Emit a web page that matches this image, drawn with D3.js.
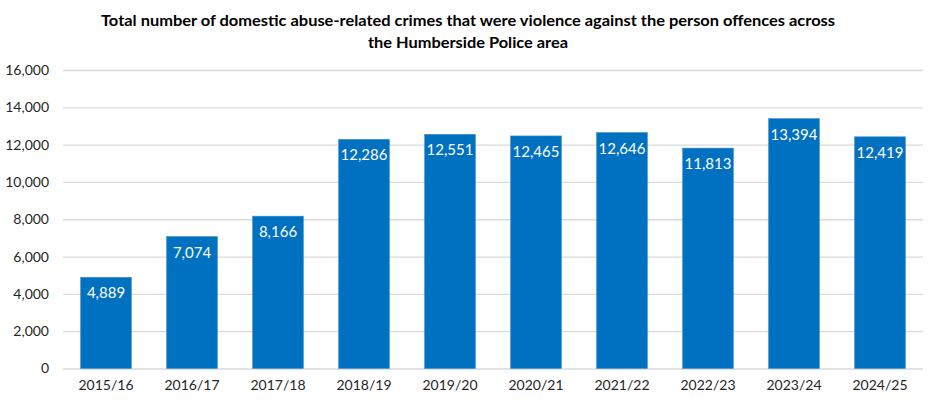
<!DOCTYPE html>
<html>
<head>
<meta charset="utf-8">
<script src="https://cdn.jsdelivr.net/npm/d3@7"></script>
<style>
  body { margin: 0; background: #fff; }
  .chart text { font-family: Lato, "Open Sans", sans-serif; }
  .chart__axis path { display: none; }
  .chart__axis line { stroke: #d9d9d9; stroke-width: 1.3; }
  .chart__axis text { fill: #262626; font-size: 14px; }
</style>
</head>
<body>
<div id="chart"></div>
<script>
var categories = ['2015/16', '2016/17', '2017/18', '2018/19', '2019/20',
  '2020/21', '2021/22', '2022/23', '2023/24', '2024/25'];
var crimes = [4889, 7074, 8166, 12286, 12551, 12465, 12646, 11813, 13394, 12419];
var yTicks = [0, 2000, 4000, 6000, 8000, 10000, 12000, 14000, 16000];
var titleLines = [
  'Total number of domestic abuse-related crimes that were violence against the person offences across',
  'the Humberside Police area'
];

var fullWidth = 938;
var fullHeight = 405;
var margins = { top: 70, right: 15, bottom: 36.5, left: 63 };
var width = fullWidth - margins.left - margins.right;
var height = fullHeight - margins.top - margins.bottom;

var container = d3.select('#chart').append('svg')
  .attr('class', 'chart')
  .attr('width', fullWidth)
  .attr('height', fullHeight);

// title, squeezed to the width of the original lines
container.append('g')
  .selectAll('text')
  .data(titleLines)
  .enter().append('text')
  .attr('x', 468)
  .attr('y', function(d, i) { return 26 + i * 22; })
  .attr('text-anchor', 'middle')
  .style('font-size', '16px')
  .style('font-weight', 'bold')
  .style('fill', '#000')
  .attr('textLength', function(d, i) { return i === 0 ? 734 : 200; })
  .attr('lengthAdjust', 'spacingAndGlyphs')
  .text(function(d) { return d; });

var svg = container.append('g')
  .attr('transform', `translate(${margins.left},${margins.top})`);

var xScale = d3.scaleBand()
  .domain(categories)
  .range([0, width])
  .paddingInner(0.41)
  .paddingOuter(0.205);

var yScale = d3.scaleLinear()
  .domain([0, 16000])
  .range([height, 0]);

// y axis with gridlines
var yAxis = d3.axisLeft(yScale)
  .tickValues(yTicks)
  .tickFormat(d3.format(','))
  .tickSizeInner(-width)
  .tickSizeOuter(0)
  .tickPadding(14);

svg.append('g')
  .attr('class', 'chart__axis chart__axis--y')
  .call(yAxis);

// x axis labels
var xAxis = d3.axisBottom(xScale)
  .tickSize(0)
  .tickPadding(12);

svg.append('g')
  .attr('class', 'chart__axis chart__axis--x')
  .attr('transform', `translate(0,${height})`)
  .call(xAxis)
  .selectAll('line').remove();

// bars
svg.selectAll('.bar')
  .data(crimes)
  .enter().append('rect')
  .attr('class', 'bar')
  .attr('x', function(d, i) { return xScale(categories[i]); })
  .attr('width', xScale.bandwidth())
  .attr('y', function(d) { return yScale(d); })
  .attr('height', function(d) { return height - yScale(d); })
  .style('fill', '#0070c0')
  .style('stroke', '#3d8fd1')
  .style('stroke-width', 0.6);

// value labels
svg.selectAll('.bar-label')
  .data(crimes)
  .enter().append('text')
  .attr('class', 'bar-label')
  .attr('x', function(d, i) { return xScale(categories[i]) + xScale.bandwidth() / 2; })
  .attr('y', function(d) { return yScale(d) + 21; })
  .attr('text-anchor', 'middle')
  .style('font-size', '15px')
  .style('fill', '#fff')
  .text(function(d) { return d3.format(',')(d); });
</script>
</body>
</html>
